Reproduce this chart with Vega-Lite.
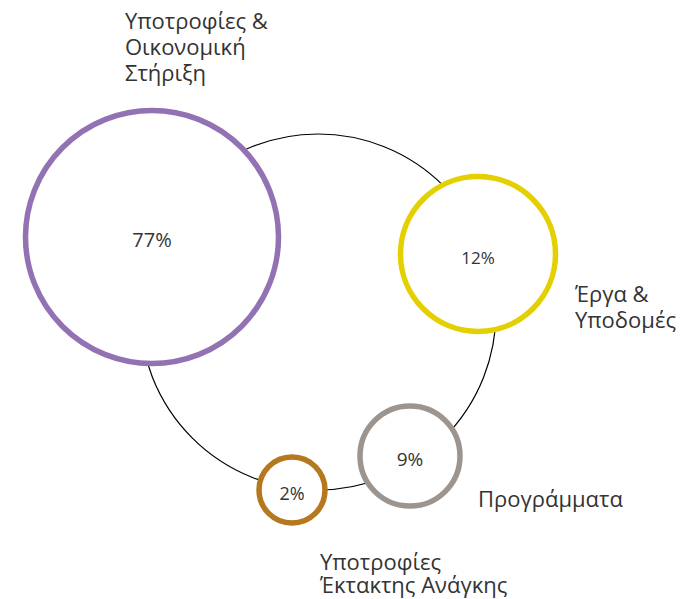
{
  "$schema": "https://vega.github.io/schema/vega-lite/v6.json",
  "width": 680,
  "height": 599,
  "padding": 0,
  "autosize": {"type": "fit", "contains": "padding"},
  "background": "white",
  "config": {"view": {"stroke": null}},
  "datasets": {
    "circles": [
      {"cat": "Υποτροφίες & Οικονομική Στήριξη", "pct": "77%", "x": -166, "y": 75, "lx": -193, "ly": 283, "label": ["Υποτροφίες &", "Οικονομική", "Στήριξη"]},
      {"cat": "Έργα & Υποδομές", "pct": "12%", "x": 160, "y": 58, "lx": 257, "ly": 10, "label": ["Έργα &", "Υποδομές"]},
      {"cat": "Προγράμματα", "pct": "9%", "x": 92, "y": -144, "lx": 160, "ly": -195, "label": ["Προγράμματα"]},
      {"cat": "Υποτροφίες Έκτακτης Ανάγκης", "pct": "2%", "x": -26, "y": -178, "lx": 2, "ly": -258, "label": ["Υποτροφίες", " Έκτακτης Ανάγκης"]}
    ],
    "ring": [{"x": 0, "y": 0}]
  },
  "resolve": {"scale": {"size": "independent"}},
  "layer": [
    {
      "data": {"name": "ring"},
      "mark": {"type": "point", "shape": "circle", "size": 126736, "filled": false, "stroke": "#000000", "strokeWidth": 1.2, "opacity": 1},
      "encoding": {
        "x": {"field": "x", "type": "quantitative", "scale": {"domain": [-318, 362], "nice": false, "zero": false}, "axis": null},
        "y": {"field": "y", "type": "quantitative", "scale": {"domain": [-287, 312], "nice": false, "zero": false}, "axis": null}
      }
    },
    {
      "data": {"name": "circles"},
      "mark": {"type": "point", "shape": "circle", "filled": false, "fill": "white", "fillOpacity": 1, "strokeWidth": 5.5, "opacity": 1, "strokeOpacity": 1},
      "encoding": {
        "x": {"field": "x", "type": "quantitative", "axis": null},
        "y": {"field": "y", "type": "quantitative", "axis": null},
        "stroke": {"field": "cat", "type": "nominal", "legend": null, "scale": {
          "domain": ["Υποτροφίες & Οικονομική Στήριξη", "Έργα & Υποδομές", "Προγράμματα", "Υποτροφίες Έκτακτης Ανάγκης"],
          "range": ["#9272b3", "#e4cf00", "#9d948e", "#b5781f"]}},
        "size": {"field": "cat", "type": "nominal", "legend": null, "scale": {"type": "ordinal",
          "domain": ["Υποτροφίες & Οικονομική Στήριξη", "Έργα & Υποδομές", "Προγράμματα", "Υποτροφίες Έκτακτης Ανάγκης"],
          "range": [64009, 24025, 10000, 4356]}}
      }
    },
    {
      "data": {"name": "circles"},
      "mark": {"type": "text", "font": "Open Sans", "color": "#333333", "align": "center", "baseline": "alphabetic", "dy": 10},
      "encoding": {
        "x": {"field": "x", "type": "quantitative", "axis": null},
        "y": {"field": "y", "type": "quantitative", "axis": null},
        "text": {"field": "pct", "type": "nominal"},
        "size": {"field": "cat", "type": "nominal", "legend": null, "scale": {"type": "ordinal",
          "domain": ["Υποτροφίες & Οικονομική Στήριξη", "Έργα & Υποδομές", "Προγράμματα", "Υποτροφίες Έκτακτης Ανάγκης"],
          "range": [20, 17, 19, 18]}}
      }
    },
    {
      "data": {"name": "circles"},
      "transform": [{"filter": "datum.pct != '2%'"}],
      "mark": {"type": "text", "font": "Open Sans", "fontSize": 22, "lineHeight": 26, "color": "#333333", "align": "left", "baseline": "alphabetic"},
      "encoding": {
        "x": {"field": "lx", "type": "quantitative", "axis": null},
        "y": {"field": "ly", "type": "quantitative", "axis": null},
        "text": {"field": "label"}
      }
    },
    {
      "data": {"name": "circles"},
      "transform": [{"filter": "datum.pct == '2%'"}],
      "mark": {"type": "text", "font": "Open Sans", "fontSize": 22, "lineHeight": 23, "color": "#333333", "align": "left", "baseline": "alphabetic"},
      "encoding": {
        "x": {"field": "lx", "type": "quantitative", "axis": null},
        "y": {"field": "ly", "type": "quantitative", "axis": null},
        "text": {"field": "label"}
      }
    }
  ]
}
